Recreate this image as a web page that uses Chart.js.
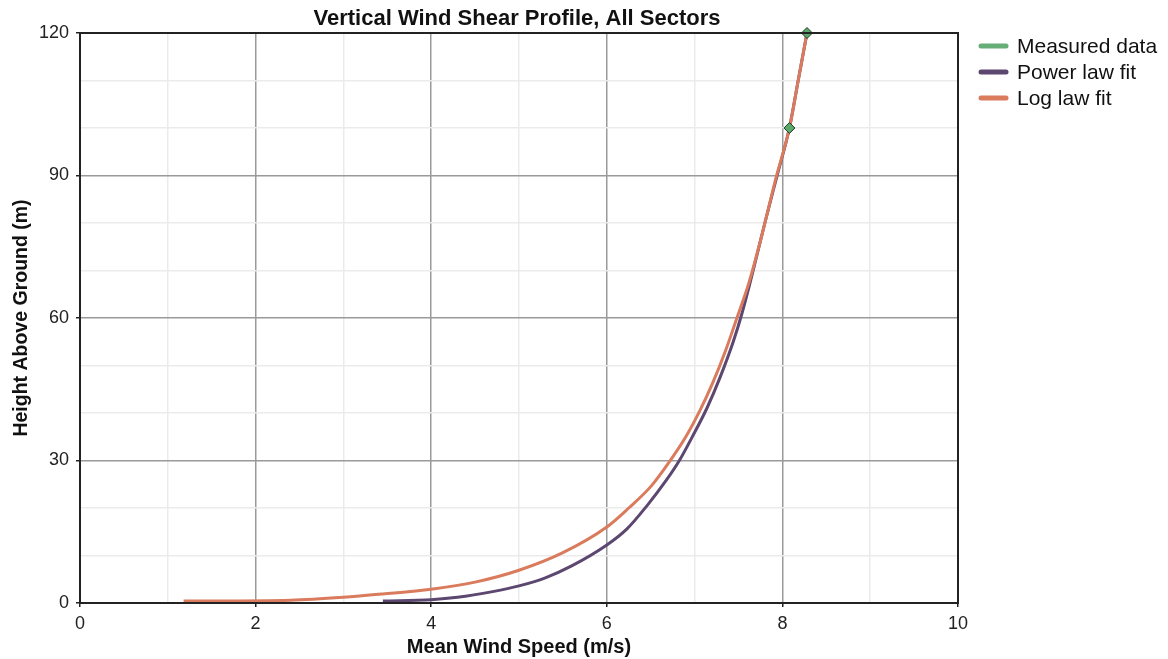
<!DOCTYPE html>
<html>
<head>
<meta charset="utf-8">
<script src="https://cdn.jsdelivr.net/npm/chart.js@4/dist/chart.umd.min.js"></script>
<style>
  html, body { margin: 0; padding: 0; background: #fff; }
  #wrap { width: 1168px; height: 659px; position: relative; }
</style>
</head>
<body>
<div id="wrap"><canvas id="chart1" width="1168" height="659"></canvas></div>
<script>
// valores (velocidade em m/s, altura em m)
const measuredSpeeds = [8.08, 8.28];
const measuredHeights = [100, 120];

const powerSpeeds  = [3.45, 4.0, 4.3, 4.7, 5.0, 5.3, 5.6, 6.0, 6.23, 6.45, 6.68, 6.83, 6.98, 7.14, 7.29, 7.44, 7.54, 7.66, 7.8, 7.94, 8.08, 8.18, 8.28];
const powerHeights = [0.4, 0.7, 1.2, 2.4, 3.6, 5.3, 7.8, 12.2, 15.6, 20.3, 25.9, 30.1, 35.2, 41.0, 47.5, 55.0, 61.0, 69.5, 80.0, 90.0, 100, 110, 120];

const logSpeeds  = [1.18, 2.4, 3.0, 3.45, 4.0, 4.5, 5.0, 5.5, 6.0, 6.25, 6.5, 6.7, 6.9, 7.06, 7.21, 7.35, 7.48, 7.62, 7.76, 7.92, 8.08, 8.18, 8.28];
const logHeights = [0.4, 0.6, 1.2, 1.9, 2.9, 4.4, 6.9, 10.6, 16.0, 20.0, 24.5, 29.4, 35.0, 40.5, 46.5, 53.0, 59.9, 67.5, 77.0, 89.0, 100, 110, 120];

const xTicks = [0, 2, 4, 6, 8, 10];
const yTicks = [0, 30, 60, 90, 120];

const seriesNames = ['Measured data', 'Power law fit', 'Log law fit'];
const seriesColors = ['#66ad78', '#5c4770', '#d97b5c'];

function pts(xs, ys) {
  return xs.map((v, i) => ({ x: v, y: ys[i] }));
}

const FONT = '"Liberation Sans", Arial, sans-serif';

// moldura, título e legenda
const extras = {
  id: 'extras',
  afterDraw(chart) {
    const c = chart.ctx;
    const a = chart.chartArea;
    c.save();
    c.strokeStyle = '#222';
    c.lineWidth = 2;
    c.strokeRect(a.left, a.top, a.right - a.left, a.bottom - a.top);

    c.fillStyle = '#111';
    c.font = 'bold 22px ' + FONT;
    c.textAlign = 'center';
    c.textBaseline = 'middle';
    c.fillText('Vertical Wind Shear Profile, All Sectors', 517, 19);

    c.font = '21px ' + FONT;
    c.textAlign = 'left';
    seriesNames.forEach((name, i) => {
      const y = 46 + i * 26;
      c.strokeStyle = seriesColors[i];
      c.lineWidth = 5;
      c.lineCap = 'round';
      c.beginPath();
      c.moveTo(981, y);
      c.lineTo(1006, y);
      c.stroke();
      c.fillStyle = '#111';
      c.fillText(name, 1017, y + 1);
    });
    c.restore();
  }
};

const config1 = {
  type: 'scatter',
  data: {
    datasets: [
      {
        label: seriesNames[0],
        data: pts(measuredSpeeds, measuredHeights),
        showLine: false,
        pointStyle: 'rectRot',
        pointRadius: 5.5,
        backgroundColor: '#5aa86c',
        borderColor: '#1e3a25',
        borderWidth: 1,
        clip: false,
        order: 0
      },
      {
        label: seriesNames[1],
        data: pts(powerSpeeds, powerHeights),
        showLine: true,
        borderColor: seriesColors[1],
        borderWidth: 3,
        pointRadius: 0,
        cubicInterpolationMode: 'monotone',
        order: 2
      },
      {
        label: seriesNames[2],
        data: pts(logSpeeds, logHeights),
        showLine: true,
        borderColor: seriesColors[2],
        borderWidth: 3,
        pointRadius: 0,
        cubicInterpolationMode: 'monotone',
        order: 1
      }
    ]
  },
  options: {
    responsive: false,
    animation: false,
    layout: { padding: { top: 33, right: 210, left: 0, bottom: 0 } },
    plugins: {
      legend: { display: false },
      title: { display: false },
      tooltip: { enabled: false }
    },
    scales: {
      x: {
        type: 'linear',
        min: 0,
        max: 10,
        afterFit: s => { s.height = 56; },
        ticks: {
          stepSize: 1,
          autoSkip: false,
          maxRotation: 0,
          color: '#222',
          font: { size: 18, family: FONT },
          padding: 6,
          callback: v => xTicks.includes(v) ? String(v) : ''
        },
        grid: {
          color: ctx => ctx.tick && ctx.tick.value % 2 === 0 ? '#9a9a9a' : '#ebebeb',
          tickColor: ctx => ctx.tick && ctx.tick.value % 2 === 0 ? '#222' : 'rgba(0,0,0,0)',
          tickLength: 4,
          lineWidth: 1.5
        },
        border: { color: '#222', width: 2 },
        title: {
          display: true,
          text: 'Mean Wind Speed (m/s)',
          color: '#111',
          font: { size: 20, weight: 'bold', family: FONT },
          padding: { top: 0, bottom: 0 }
        }
      },
      y: {
        type: 'linear',
        min: 0,
        max: 120,
        afterFit: s => { s.width = 80; },
        ticks: {
          stepSize: 10,
          autoSkip: false,
          color: '#222',
          font: { size: 18, family: FONT },
          padding: 7,
          callback: v => yTicks.includes(v) ? String(v) : ''
        },
        grid: {
          color: ctx => ctx.tick && ctx.tick.value % 30 === 0 ? '#9a9a9a' : '#ebebeb',
          tickColor: ctx => ctx.tick && ctx.tick.value % 30 === 0 ? '#222' : 'rgba(0,0,0,0)',
          tickLength: 4,
          lineWidth: 1.5
        },
        border: { color: '#222', width: 2 },
        title: {
          display: true,
          text: 'Height Above Ground (m)',
          color: '#111',
          font: { size: 19.5, weight: 'bold', family: FONT },
          padding: { top: 10, bottom: 2 }
        }
      }
    }
  },
  plugins: [extras]
};

var ctx1 = document.getElementById('chart1').getContext('2d');
var myChart1 = new Chart(ctx1, config1);
</script>
</body>
</html>
